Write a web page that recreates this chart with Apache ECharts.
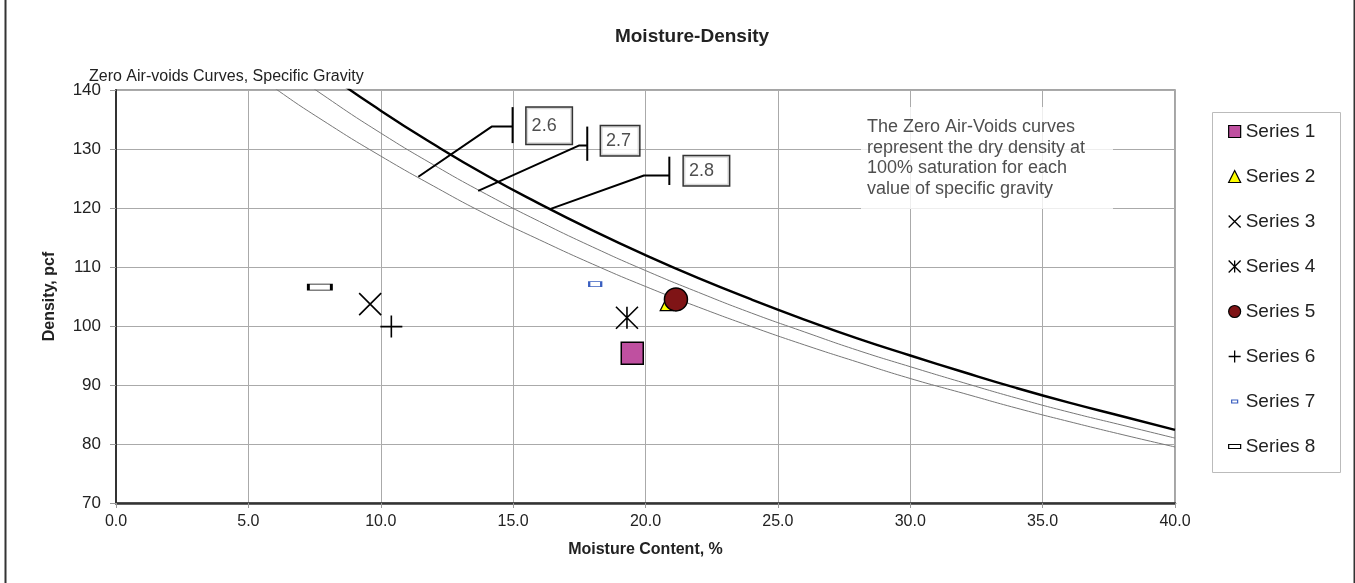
<!DOCTYPE html>
<html><head><meta charset="utf-8">
<script src="https://cdn.jsdelivr.net/npm/echarts@6/dist/echarts.min.js"></script>
<style>html,body{margin:0;padding:0;background:#fff}#c{width:1355px;height:583px}</style>
</head><body><div id="c"></div>
<script>
// ---- data ----
const xTicks = [0, 5, 10, 15, 20, 25, 30, 35, 40];
const yTicks = [70, 80, 90, 100, 110, 120, 130, 140];
const curveMoisture = [4,6,8,10,12,14,16,18,20,22,24,26,28,30,32,34,36,38,40];
const zav28 = [157.1,149.6,142.7,136.5,130.8,125.5,120.7,116.2,112.0,108.1,104.5,101.1,97.9,95.0,92.2,89.5,87.0,84.7,82.4];
const zav27 = [152.1,145.0,138.6,132.7,127.3,122.3,117.7,113.4,109.4,105.7,102.2,99.0,95.9,93.1,90.4,87.8,85.4,83.2,81.0];
const zav26 = [147.0,140.3,134.3,128.8,123.7,118.9,114.6,110.5,106.7,103.2,99.9,96.8,93.9,91.1,88.6,86.1,83.8,81.6,79.5];
const seriesNames = ['Series 1','Series 2','Series 3','Series 4','Series 5','Series 6','Series 7','Series 8'];
const s1 = [[19.5, 95.4]];
const s2 = [[20.8, 103.7]];
const s3 = [[9.6, 103.7]];
const s4 = [[19.3, 101.4]];
const s5 = [[21.15, 104.5]];
const s6 = [[10.4, 99.9]];
const s7 = [[18.1, 107.1]];
const s8 = [[7.7, 106.6]];
// callout leaders (data coords)
const gsLabels = ['2.6', '2.7', '2.8'];
const leader26 = [[11.42,125.3],[14.19,133.8],[14.98,133.8]];
const bar26 = [[14.98,137.1],[14.98,131.0]];
const leader27 = [[13.68,122.9],[17.50,130.6],[17.80,130.6]];
const bar27 = [[17.80,133.8],[17.80,128.0]];
const leader28 = [[16.39,119.8],[19.94,125.5],[20.90,125.5]];
const bar28 = [[20.90,128.7],[20.90,123.9]];
const labelAnchors = [[16.36,133.95],[19.04,131.38],[22.30,126.32]];
const noteAnchor = [28.14, 128.47];
const noteText = 'The Zero Air-Voids curves\nrepresent the dry density at\n100% saturation for each\nvalue of specific gravity';

// ---- chart ----
const FONT = 'Liberation Sans, Arial, sans-serif';
const chart = echarts.init(document.getElementById('c'), null, {renderer: 'canvas'});
const zip = (xs, ys) => xs.map((x, i) => [x, ys[i]]);
const xPath = 'path://M0,0L10,10M10,0L0,10';
const astPath = 'path://M0,0L10,10M10,0L0,10M5,0L5,10';
const plusPath = 'path://M0,5L10,5M5,0L5,10';
const s7Icon = 'path://M0,0M12,12M3,4.5L9,4.5L9,7.5L3,7.5Z';
const s8Icon = 'path://M0,0M12,12M0,4L12,4L12,8L0,8Z';

const markerStyles = [
  {symbol:'rect', size:22, item:{color:'#BF50A0', borderColor:'#000', borderWidth:1.5, opacity:1}},
  {symbol:'triangle', size:13, item:{color:'#FFFF00', borderColor:'#000', borderWidth:1.2, opacity:1}},
  {symbol:xPath, size:22, item:{color:'transparent', borderColor:'#000', borderWidth:1.6, opacity:1}},
  {symbol:astPath, size:22, item:{color:'transparent', borderColor:'#000', borderWidth:1.6, opacity:1}},
  {symbol:'circle', size:23, item:{color:'#7F1416', borderColor:'#000', borderWidth:1.5, opacity:1}},
  {symbol:plusPath, size:22, item:{color:'transparent', borderColor:'#000', borderWidth:1.6, opacity:1}},
  {symbol:'rect', size:[12,5], item:{color:'#fff', borderColor:'#3A5FC0', borderWidth:1.5, opacity:1}},
  {symbol:'rect', size:[23,6], item:{color:'#fff', borderColor:'#000', borderWidth:1.5, opacity:1}}
];
const legendIcons = ['rect','triangle',xPath,astPath,'circle',plusPath,s7Icon,s8Icon];
const legendItem = [
  {color:'#BF50A0', borderColor:'#000', borderWidth:1.2, opacity:1},
  {color:'#FFFF00', borderColor:'#000', borderWidth:1.2, opacity:1},
  {color:'transparent', borderColor:'#000', borderWidth:1.3, opacity:1},
  {color:'transparent', borderColor:'#000', borderWidth:1.3, opacity:1},
  {color:'#7F1416', borderColor:'#000', borderWidth:1.2, opacity:1},
  {color:'transparent', borderColor:'#000', borderWidth:1.3, opacity:1},
  {color:'#fff', borderColor:'#3A5FC0', borderWidth:1.2, opacity:1},
  {color:'#fff', borderColor:'#000', borderWidth:1.2, opacity:1}
];
const pointData = [s1,s2,s3,s4,s5,s6,s7,s8];

const lineSeries = (data, color, width, z) => ({
  type:'line', data, showSymbol:false, symbol:'none', smooth:true, clip:true, silent:true, z,
  lineStyle:{color, width}, emphasis:{disabled:true}, legendHoverLink:false
});
const leaderSeries = (data) => ({
  type:'line', data, showSymbol:false, symbol:'none', silent:true, z:3,
  lineStyle:{color:'#000', width:2}, emphasis:{disabled:true}
});

const labelPads = [[7,15,11,5],[5,8,6,5],[5,15,6,5]];

const series = [
  lineSeries(zip(curveMoisture, zav26), '#777', 1, 2),
  lineSeries(zip(curveMoisture, zav27), '#777', 1, 2),
  lineSeries(zip(curveMoisture, zav28), '#000', 2.4, 2),
  leaderSeries(leader26), leaderSeries(bar26),
  leaderSeries(leader27), leaderSeries(bar27),
  leaderSeries(leader28), leaderSeries(bar28),
  {
    type:'scatter', silent:true, z:4, symbolSize:0,
    data: labelAnchors.map((p, i) => ({value:p, label:{
      show:true, position:'inside', formatter:gsLabels[i], fontSize:18, fontFamily:FONT, color:'#222',
      backgroundColor:'#fff', borderColor:'#000', borderWidth:1.5, padding:labelPads[i]
    }})),
    emphasis:{disabled:true}
  },
  {
    type:'scatter', silent:true, z:1, symbolSize:0,
    data: [{value:noteAnchor, label:{
      show:true, position:'inside', formatter:noteText, fontSize:18, fontFamily:FONT, color:'#222',
      lineHeight:20.5, width:241, align:'left', backgroundColor:'#fff', padding:[3,5,17,6]
    }}],
    emphasis:{disabled:true}
  }
];
seriesNames.forEach((name, i) => {
  series.push({
    name, type:'scatter', data: pointData[i], z:5,
    symbol: markerStyles[i].symbol, symbolSize: markerStyles[i].size,
    itemStyle: markerStyles[i].item, emphasis:{disabled:true}
  });
});

chart.setOption({
  animation:false,
  backgroundColor:'#fff',
  textStyle:{fontFamily:FONT},
  title:[
    {text:'Moisture-Density', left:687, top:22, textAlign:'center',
     textStyle:{fontSize:19, fontWeight:'bold', color:'#222', fontFamily:FONT}},
    {text:'Zero Air-voids Curves, Specific Gravity', left:84, top:64,
     textStyle:{fontSize:16, fontWeight:'normal', color:'#222', fontFamily:FONT}}
  ],
  legend:{
    orient:'vertical', left:1228, top:122, padding:0,
    itemWidth:12, itemHeight:12, itemGap:26,
    textStyle:{fontSize:19, color:'#222', fontFamily:FONT},
    selectedMode:false,
    data: seriesNames.map((n, i) => ({name:n, icon:legendIcons[i], itemStyle:legendItem[i]}))
  },
  grid:{left:116, right:180, top:90, bottom:80, show:true, borderColor:'#888', borderWidth:1.5, backgroundColor:'transparent'},
  xAxis:{
    type:'value', min:xTicks[0], max:xTicks[xTicks.length-1], interval:5,
    name:'Moisture Content, %', nameLocation:'middle', nameGap:39,
    nameTextStyle:{fontSize:16, fontWeight:'bold', color:'#222', fontFamily:FONT},
    axisLine:{show:true, onZero:false, lineStyle:{color:'#333', width:2.5}},
    axisTick:{show:true, length:5, lineStyle:{color:'#999'}},
    axisLabel:{fontSize:16, color:'#222', margin:11, formatter:v => v.toFixed(1)},
    splitLine:{show:true, lineStyle:{color:'#aaa', width:1}}
  },
  yAxis:{
    type:'value', min:yTicks[0], max:yTicks[yTicks.length-1], interval:10,
    name:'Density, pcf', nameLocation:'middle', nameGap:58, nameRotate:90,
    nameTextStyle:{fontSize:16, fontWeight:'bold', color:'#222', fontFamily:FONT},
    axisLine:{show:true, onZero:false, lineStyle:{color:'#333', width:2}},
    axisTick:{show:true, length:6, lineStyle:{color:'#999'}},
    axisLabel:{fontSize:17, color:'#222', margin:15},
    splitLine:{show:true, lineStyle:{color:'#aaa', width:1}}
  },
  graphic:[
    {type:'rect', left:1210, top:110, shape:{width:128, height:360}, style:{fill:null, stroke:'#bbb', lineWidth:1}, silent:true},
    {type:'rect', left:3, top:-5, shape:{width:1349, height:595}, style:{fill:null, stroke:'#333', lineWidth:2}, silent:true}
  ],
  series
});
</script></body></html>
